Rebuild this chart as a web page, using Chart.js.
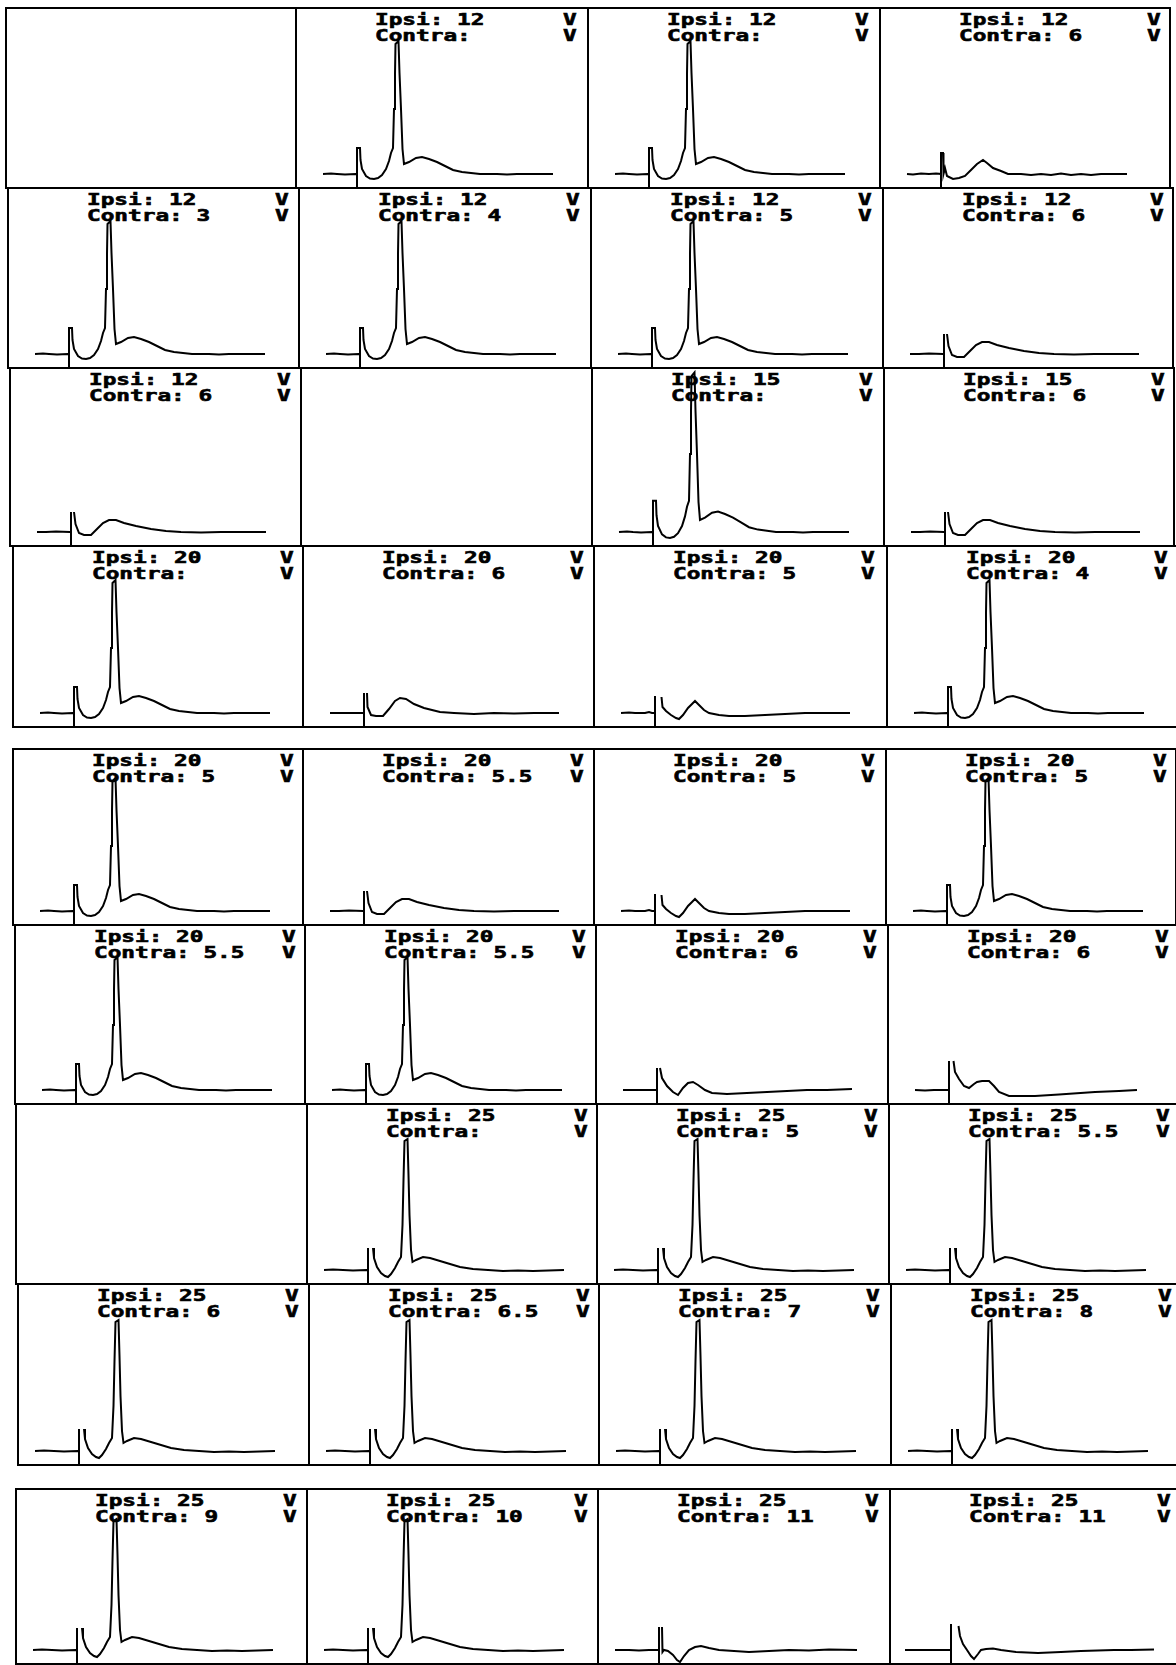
<!DOCTYPE html>
<html>
<head>
<meta charset="utf-8">
<script src="https://cdn.jsdelivr.net/npm/chart.js@4.4.0/dist/chart.umd.min.js"></script>
<style>
  body { margin: 0; background: #fff; width: 1176px; height: 1665px; overflow: hidden; position: relative; }
  .panel { position: absolute; border: 2px solid #000; box-sizing: border-box; }
  .lbl { position: absolute; font-family: "DejaVu Sans Mono", monospace; font-weight: bold; font-size: 16px;
         line-height: 16px; color: #000; white-space: pre; transform: scaleX(1.42); transform-origin: 0 0;
         -webkit-text-stroke: 0.6px #000; }
  canvas.trace { position: absolute; }
</style>
</head>
<body>
<script>
// Waveforms, [ms after stimulus, amplitude]; null = pen lifted
var BIG = [[-3.4,0],[-2.6,0.5],[-2.0,0],[-1.2,-0.5],[-0.1,0],[0,0],[0,-14],[0,26],[0.3,26],[0.35,14],[0.5,5],[0.9,-2],
  [1.3,-4.5],[1.7,-5],[2.1,-4],[2.5,-1],[2.9,5],[3.2,13],[3.4,21],[3.6,26],[3.7,65],[3.8,100],[3.85,130],[4.15,133],
  [4.25,101],[4.4,65],[4.55,25],[4.7,10],[5.2,12],[5.9,16],[6.5,17],[7.2,15],[8.0,12],[8.8,8],[9.6,4],[10.5,2],
  [12.3,0],[14,0],[15,-0.5],[16,0],[19.6,0]];
var BIG_DEEP = [[-4.4,0],[-3.5,0.5],[-2.5,0],[-1.5,-0.5],[-0.1,0],[0,0],[0,-14],[0,22],[0.1,null],[0.5,22],[0.6,12],
  [0.9,3],[1.3,-3],[1.7,-6],[2.0,-7],[2.3,-4],[2.7,2],[3.0,8],[3.3,13],[3.45,45],[3.55,90],[3.65,129],[3.95,131],
  [4.05,95],[4.15,55],[4.3,20],[4.45,8],[4.8,10],[5.5,13],[6.2,12],[7.2,9],[8.2,6],[9.2,3],[10.5,1],[12,0],
  [13.5,-1],[15,-0.5],[16.5,-1],[19.6,0]];
var SMALL = [[-3.4,0],[-2.8,-0.5],[-2.0,0.5],[-1.2,0],[-0.5,0.5],[0,0],[0,-14],[0,21],[0.2,21],[0.25,0],[0.4,6],
  [0.6,-2],[1.2,-5],[1.8,-4],[2.4,-2],[3.0,4],[3.6,10],[4.2,14],[4.6,11],[5.2,6],[6.0,3],[6.7,0],[8,0],[9,-1],
  [10,0],[11,-1],[12,0.5],[13,-1],[14,0],[15,-1],[16,0],[18.6,0]];
var BROAD = [[-3.4,0],[-2.5,0],[-1.5,0.5],[-0.1,0],[0,0],[0,-14],[0,20],[0.1,null],[0.3,20],[0.45,8],[0.8,-1],
  [1.3,-3],[2.0,-3],[2.6,3],[3.2,9],[3.8,12],[4.5,12],[5.3,9],[6.5,6],[8.0,3],[9.5,1],[11,0],[13,-0.5],[15,0],
  [19.5,0]];
var SMALL2 = [[-3.4,0],[-0.1,0],[0,0],[0,-14],[0,20],[0.1,null],[0.3,20],[0.35,6],[0.7,-2],[1.2,-3],[1.9,-3],
  [2.5,4],[3.1,12],[3.6,15],[4.2,14],[5.0,9],[6.0,5],[7.6,1],[9,0],[11,-1],[13,0],[15,-0.5],[17,0],[19.5,0]];
var DIPPEAK = [[-3.4,0],[-2.6,0.5],[-2.0,0],[-1.0,0],[-0.6,1],[-0.3,0],[0,0],[0,-14],[0,17],[0.1,null],[0.65,16],
  [0.75,6],[1.1,2],[1.6,-2],[2.1,-5],[2.4,-6],[2.8,-2],[3.3,5],[3.7,9],[4.0,12],[4.4,8],[4.9,3],[5.4,0],[6.4,-2],
  [7.4,-3],[9,-3],[11,-2],[13,-1],[15,0],[17,0],[19.5,0]];
var NEGBUMP = [[-3.4,0],[-0.1,0],[0,0],[0,-14],[0,22],[0.1,null],[0.3,22],[0.5,12],[1.0,4],[1.6,-2],[2.1,-5],
  [2.6,2],[3.1,7],[3.6,8],[4.1,5],[4.8,0],[5.5,-3],[7,-4],[9,-3],[11,-2],[13,-1],[15,0],[17,0],[19.5,1]];
var DOUBLE = [[-3.4,0],[-2.4,-0.5],[-1.5,0],[-0.1,0],[0,0],[0,-14],[0,29],[0.1,null],[0.45,29],[0.6,18],[1.0,11],
  [1.5,4],[2.0,2],[2.5,6],[2.8,8],[3.3,9],[4.0,9],[4.5,4],[5.0,-2],[6.0,-6],[8.6,-6],[11,-4.5],[14.6,-2],[17,-1],
  [18.8,0]];
var NEG = [[-4.4,0],[-3,0],[-2,-0.5],[-1,0],[-0.1,0],[0,0],[0,-14],[0,23],[0.1,null],[0.3,23],[0.35,-2],[0.5,0],
  [0.9,-1],[1.4,-5],[1.8,-10],[2.1,-12],[2.5,-6],[3.0,0],[3.6,3],[4.2,4],[5.0,2],[6.0,0],[7.5,-1],[9,-2],[11,-1],
  [13,0],[15,-0.5],[17,0.5],[19.8,0]];
var NEG2 = [[-4.6,0],[-0.1,0],[0,0],[0,-14],[0,26],[0.1,null],[0.75,24],[0.9,14],[1.2,6],[1.6,0],[2.0,-6],[2.3,-9],
  [2.7,-4],[3.0,0],[3.5,1],[4.2,1.5],[5.0,0],[6.5,-2],[8.7,-3],[11,-2],[13,-1],[16.3,0],[18,0],[20.3,0.5]];

// Panel labels, row by row (null = empty panel)
var ipsi = [
  null, '12', '12', '12',
  '12', '12', '12', '12',
  '12', null, '15', '15',
  '20', '20', '20', '20',
  '20', '20', '20', '20',
  '20', '20', '20', '20',
  null, '25', '25', '25',
  '25', '25', '25', '25',
  '25', '25', '25', '25'
];
var contra = [
  null, '', '', '6',
  '3', '4', '5', '6',
  '6', null, '', '6',
  '', '6', '5', '4',
  '5', '5.5', '5', '5',
  '5.5', '5.5', '6', '6',
  null, '', '5', '5.5',
  '6', '6.5', '7', '8',
  '9', '10', '11', '11'
];
var traces = [
  null, BIG, BIG, SMALL,
  BIG, BIG, BIG, BROAD,
  BROAD, null, BIG, BROAD,
  BIG, SMALL2, DIPPEAK, BIG,
  BIG, BROAD, DIPPEAK, BIG,
  BIG, BIG, NEGBUMP, DOUBLE,
  null, BIG_DEEP, BIG_DEEP, BIG_DEEP,
  BIG_DEEP, BIG_DEEP, BIG_DEEP, BIG_DEEP,
  BIG_DEEP, BIG_DEEP, NEG, NEG2
];
// vertical gain of each panel (1 = standard)
var gain = [
  1, 1, 1, 1,  1, 1, 1, 1,  1, 1, 1.2, 1,  1, 1, 1, 1,  1, 1, 1, 1,
  1, 1, 1, 1,  1, 1, 1, 1,  1, 1, 1, 1,  1, 1, 1, 1
];

// Page layout of the scanned sheet
var rowY = [[7,187],[187,367],[367,545],[545,726],[748,924],[924,1103],[1103,1283],[1283,1464],[1488,1663]];
var colX = [[5,295,587,879],[7,298,590,882],[9,300,591,883],[12,302,593,886],[12,302,593,885],
            [14,304,595,887],[15,306,596,888],[17,308,598,890],[15,306,597,889]];

function addDiv(cls, x, y, w, h, text) {
  var d = document.createElement('div');
  d.className = cls;
  d.style.left = x + 'px';
  d.style.top = y + 'px';
  if (w) d.style.width = w + 'px';
  if (h) d.style.height = h + 'px';
  if (text !== undefined) d.textContent = text;
  document.body.appendChild(d);
  return d;
}

window.onload = function() {
  for (var r = 0; r < 9; r++) {
    var y0 = rowY[r][0], y1 = rowY[r][1];
    for (var c = 0; c < 4; c++) {
      var i = r * 4 + c;
      var x0 = colX[r][c];
      var w = c < 3 ? colX[r][c + 1] - x0 + 2 : 292;
      addDiv('panel', x0, y0, w, y1 - y0 + 2);
      if (ipsi[i] === null) continue;

      addDiv('lbl', x0 + 80, y0 + 5, 0, 0, 'Ipsi: ' + ipsi[i]);
      addDiv('lbl', x0 + 80, y0 + 21, 0, 0, 'Contra:' + (contra[i] ? ' ' + contra[i] : ''));
      addDiv('lbl', x0 + 268, y0 + 5, 0, 0, 'V');
      addDiv('lbl', x0 + 268, y0 + 21, 0, 0, 'V');

      var h = y1 - y0 - 2;
      var cv = document.createElement('canvas');
      cv.className = 'trace';
      cv.width = 266;
      cv.height = h;
      cv.style.left = (x0 + 16) + 'px';
      cv.style.top = (y0 + 2) + 'px';
      document.body.appendChild(cv);

      var k = 1 / gain[i];
      new Chart(cv.getContext('2d'), {
        type: 'line',
        data: {
          datasets: [{
            data: traces[i].map(function(p) { return { x: p[0], y: p[1] }; }),
            borderColor: '#000',
            borderWidth: 2,
            pointRadius: 0,
            tension: 0,
            fill: false,
            spanGaps: false
          }]
        },
        options: {
          responsive: false,
          animation: false,
          devicePixelRatio: 1,
          layout: { padding: 0 },
          scales: {
            x: { type: 'linear', min: -4.6, max: 22, display: false },
            y: { min: -13 * k, max: (h - 13) * k, display: false }
          },
          plugins: {
            legend: { display: false },
            tooltip: { enabled: false }
          }
        }
      });
    }
  }
};
</script>
</body>
</html>
